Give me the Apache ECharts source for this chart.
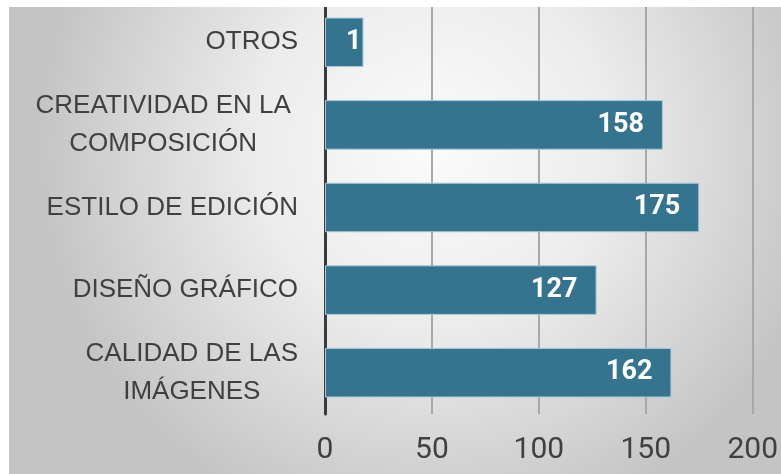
<!DOCTYPE html>
<html><head><meta charset="utf-8">
<script src="https://cdn.jsdelivr.net/npm/echarts@6/dist/echarts.min.js"></script>
<style>html,body{margin:0;padding:0;background:#fff}#c{width:781px;height:474px}</style>
</head><body><div id="c"></div>
<script>
const categories = ['CALIDAD DE LAS\nIMÁGENES', 'DISEÑO GRÁFICO', 'ESTILO DE EDICIÓN', 'CREATIVIDAD EN LA \nCOMPOSICIÓN ', 'OTROS'];
const values = [162, 127, 175, 158, 18];
const xTicks = [0, 50, 100, 150, 200];

const chart = echarts.init(document.getElementById('c'));
const data = values.map((v, i) => {
  const item = { value: v };
  if (v < 30) {
    item.label = { position: 'insideLeft', distance: 21, width: 20, overflow: 'truncate', ellipsis: '' };
  }
  return item;
});
const catFont = 'Liberation Sans, Arial, sans-serif';
chart.setOption({
  animation: false,
  backgroundColor: '#ffffff',
  graphic: [
    { type: 'rect', z: -10, silent: true, shape: { x: 9, y: 7, width: 772, height: 467 },
      style: { fill: { type: 'radial', x: 0.55, y: 0.3, r: 0.85,
        colorStops: [{ offset: 0, color: '#fbfbfb' }, { offset: 0.45, color: '#ececec' }, { offset: 1, color: '#c4c4c4' }] } } },
    { type: 'rect', z: 100, silent: true, shape: { x: 0, y: 0, width: 781, height: 7 }, style: { fill: '#ffffff' } }
  ],
  grid: { left: 325, right: 28, top: 1, bottom: 60, containLabel: false },
  xAxis: {
    type: 'value', min: xTicks[0], max: xTicks[xTicks.length - 1], interval: 50,
    axisLine: { show: false }, axisTick: { show: false },
    splitLine: { show: true, lineStyle: { color: '#a8a8a8', width: 2 } },
    axisLabel: { margin: 21, fontSize: 30, color: '#404040', fontFamily: 'Roboto, sans-serif' }
  },
  yAxis: {
    type: 'category', data: categories,
    axisLine: { show: true, lineStyle: { color: '#3a3a3a', width: 3 } },
    axisTick: { show: false },
    axisLabel: {
      margin: 27, color: '#404040', fontSize: 26, fontFamily: catFont,
      formatter: v => v.split('\n').map(l => '{c|' + l + '}').join('\n'),
      rich: { c: { align: 'center', fontSize: 26, color: '#404040', fontFamily: catFont, lineHeight: 38 } }
    }
  },
  series: [{
    type: 'bar', data: data, barCategoryGap: '40%',
    itemStyle: { color: '#35748f', borderColor: '#a9cadb', borderWidth: 1 },
    label: { show: true, position: 'insideRight', distance: 19, color: '#ffffff', fontWeight: 'bold', fontSize: 27,
      fontFamily: 'Roboto, sans-serif' }
  }]
});
</script></body></html>
